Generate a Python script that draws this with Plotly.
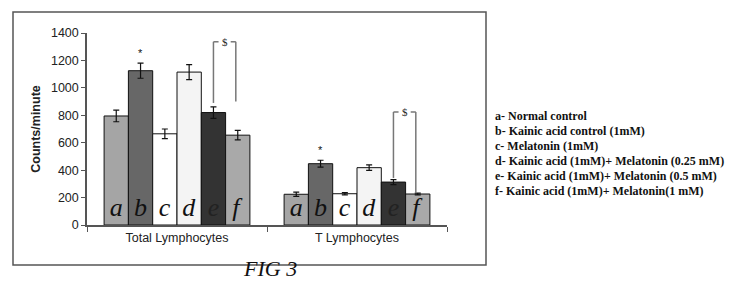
import plotly.graph_objects as go

categories = ["Total Lymphocytes", "T Lymphocytes"]
groups = ["a", "b", "c", "d", "e", "f"]
values = {
    "a": [795, 224],
    "b": [1125, 447],
    "c": [665, 228],
    "d": [1115, 418],
    "e": [820, 313],
    "f": [655, 226],
}
errors = {
    "a": [42, 15],
    "b": [55, 25],
    "c": [35, 8],
    "d": [55, 20],
    "e": [42, 18],
    "f": [35, 6],
}
colors = {
    "a": "#a5a5a5",
    "b": "#676767",
    "c": "#ffffff",
    "d": "#f4f4f4",
    "e": "#333333",
    "f": "#a9a9a9",
}
legend_lines = [
    "a- Normal control",
    "b- Kainic acid control (1mM)",
    "c- Melatonin (1mM)",
    "d- Kainic acid (1mM)+ Melatonin (0.25 mM)",
    "e- Kainic acid (1mM)+ Melatonin (0.5 mM)",
    "f- Kainic acid (1mM)+ Melatonin(1 mM)",
]
# significance brackets: (category index, top, left bottom, right bottom)
brackets = [(0, 1336, 890, 900), (1, 824, 343, 233)]

OFF = 8  # page body margin
W, H = 737 - OFF, 303 - OFF
L, T = 87 - OFF, 33 - OFF
R = W - (447 - OFF)
B = H - (225 - OFF)
pw, ph = W - L - R, H - T - B
bargap = 0.19
n = len(groups)
bw = (1 - bargap) / n


def off(i):
    return -(1 - bargap) / 2 + bw * (i + 0.5)


def px(x):  # screen x -> paper
    return (x - 87) / pw


def py(y):  # screen y -> paper
    return (225 - y) / ph


letter_colors = {"a": "#111", "b": "#111", "c": "#111", "d": "#111", "e": "#222", "f": "#111"}

fig = go.Figure()
for i, g in enumerate(groups):
    fig.add_trace(go.Bar(
        name=g, x=categories, y=values[g],
        marker=dict(color=colors[g], line=dict(color="#111", width=1)),
        error_y=dict(type="data", array=errors[g], color="#111", thickness=1.2, width=3),
        text=[g, g], textposition="inside", insidetextanchor="start", textangle=0,
        textfont=dict(family="Liberation Serif", size=26, color=letter_colors[g], style="italic"),
        cliponaxis=False,
    ))

ann = []
bi = groups.index("b")
for k in range(len(categories)):
    ann.append(dict(x=k + off(bi), y=values["b"][k] + errors["b"][k], xref="x", yref="y",
                    text="*", showarrow=False, yanchor="bottom", yshift=2,
                    font=dict(family="Liberation Sans", size=11, color="#111")))

shapes = []
ei, fi = groups.index("e"), groups.index("f")
for k, top, lb, rb in brackets:
    xl = k + off(ei)
    xr = k + off(fi) - bw * 0.08
    xm = (xl + xr) / 2
    gap = bw * 0.25
    col = "#777"
    shapes += [
        dict(type="line", xref="x", yref="y", x0=xl, x1=xl, y0=lb, y1=top, line=dict(color=col, width=1.5)),
        dict(type="line", xref="x", yref="y", x0=xr, x1=xr, y0=rb, y1=top, line=dict(color=col, width=1.5)),
        dict(type="line", xref="x", yref="y", x0=xl, x1=xm - gap, y0=top, y1=top, line=dict(color=col, width=1.5)),
        dict(type="line", xref="x", yref="y", x0=xm + gap, x1=xr, y0=top, y1=top, line=dict(color=col, width=1.5)),
    ]
    ann.append(dict(x=xm, y=top, xref="x", yref="y", text="$", showarrow=False,
                    font=dict(family="Liberation Serif", size=11, color="#222")))

for j, line in enumerate(legend_lines):
    ann.append(dict(x=px(493), y=py(116 + 15 * j), xref="paper", yref="paper",
                    text="<b>" + line + "</b>", showarrow=False, xanchor="left", yanchor="middle",
                    font=dict(family="Liberation Serif", size=12, color="#111")))

ann.append(dict(x=px(270), y=py(283), xref="paper", yref="paper", text="<i>FIG 3</i>",
                showarrow=False, font=dict(family="Liberation Serif", size=22, color="#111")))

shapes.append(dict(type="rect", xref="paper", yref="paper", x0=px(13), x1=px(486),
                   y0=py(265), y1=py(12), line=dict(color="#555", width=1.5)))

fig.update_layout(
    width=W, height=H, margin=dict(l=L, r=R, t=T, b=B),
    barmode="group", bargap=bargap, bargroupgap=0,
    plot_bgcolor="white", paper_bgcolor="white", showlegend=False,
    annotations=ann, shapes=shapes,
    font=dict(family="Liberation Sans", size=12, color="#222"),
    uniformtext=dict(minsize=26, mode="show"),
)
fig.update_xaxes(range=[-0.5, 1.5], showline=True, linecolor="#555", linewidth=1.5,
                 ticks="outside", ticklen=5, tickcolor="#555", tickson="boundaries",
                 showgrid=False, tickfont=dict(size=12.5, color="#222"))
fig.update_yaxes(range=[0, 1400], dtick=200, showline=True, linecolor="#555", linewidth=1.5,
                 ticks="outside", ticklen=4, tickcolor="#555", showgrid=False, zeroline=False,
                 tickfont=dict(size=12.5, color="#222"),
                 title=dict(text="<b>Counts/minute</b>", font=dict(size=12.5, color="#222"), standoff=8))

fig.write_html("out.html")
